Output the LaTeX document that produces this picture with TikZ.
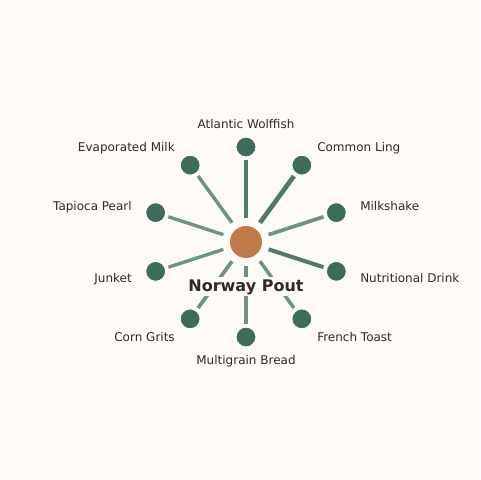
\documentclass[tikz,border=0pt]{standalone}
\usepackage{fontspec}
\setmainfont{DejaVu Sans}
\definecolor{bg}{HTML}{FEFAF6}
\definecolor{leaf}{HTML}{3D6B5C}
\definecolor{hub}{HTML}{C07A4A}
\definecolor{edgeA}{HTML}{4E7B6A}
\definecolor{edgeB}{HTML}{6A9484}
\definecolor{txt}{HTML}{2B2B2B}
\begin{document}
\begin{tikzpicture}[x=0.75pt,y=-0.75pt,
  leafnode/.style={circle,fill=leaf,draw=bg,line width=0.8pt,minimum size=20*0.75pt,inner sep=0pt},
  hubnode/.style={circle,fill=hub,draw=white,line width=1.2pt,minimum size=34*0.75pt,inner sep=0pt},
  lbl/.style={text=txt,font=\fontsize{9}{11}\selectfont,inner sep=0pt},
  spoke/.style={line cap=butt,shorten <=4.5pt,shorten >=2.2pt},
  hublabel/.style={text=txt,font=\fontsize{12}{14}\selectfont\bfseries,fill=bg,inner sep=1.5pt}]
\fill[bg] (0,0) rectangle (480,480);
\useasboundingbox (0,0) rectangle (480,480);
\def\cx{246}\def\cy{242}
\node[hubnode] (c) at (\cx,\cy) {};
% leaves: angle, name, label, anchor, width, color
\foreach \ang/\nm/\txt/\anc/\w/\col in {
  90/aw/Atlantic Wolffish/south/3.3/edgeA,
  54/cl/Common Ling/west/3.5/edgeA,
  18/mk/Milkshake/west/2.8/edgeB,
  -18/nd/Nutritional Drink/west/3.0/edgeA,
  -54/ft/French Toast/west/2.6/edgeB,
  -90/mb/Multigrain Bread/north/2.6/edgeB,
  -126/cg/Corn Grits/east/2.8/edgeB,
  -162/ju/Junket/east/2.5/edgeB,
  162/tp/Tapioca Pearl/east/2.5/edgeB,
  126/em/Evaporated Milk/east/2.6/edgeB} {
  \node[leafnode] (\nm) at ({\cx+95*cos(\ang)},{\cy-95*sin(\ang)}) {};
  \draw[spoke,draw=\col,line width=\w pt] (c) -- (\nm);
}
\node[lbl,anchor=base] (law) at (246,128) {Atlantic Wolffish};
\node[lbl,anchor=base west] (lcl) at (317,151) {Common Ling};
\node[lbl,anchor=base west] (lmk) at (360,210) {Milkshake};
\node[lbl,anchor=base west] (lnd) at (360,282) {Nutritional Drink};
\node[lbl,anchor=base west] (lft) at (317,341) {French Toast};
\node[lbl,anchor=base] (lmb) at (246,364) {Multigrain Bread};
\node[lbl,anchor=base east] (lcg) at (175,341) {Corn Grits};
\node[lbl,anchor=base east] (lju) at (132,282) {Junket};
\node[lbl,anchor=base east] (ltp) at (132,210) {Tapioca Pearl};
\node[lbl,anchor=base east] (lem) at (175,151) {Evaporated Milk};
\node[hublabel,anchor=base] (hl) at (246,291) {Norway Pout};
\end{tikzpicture}
\end{document}
